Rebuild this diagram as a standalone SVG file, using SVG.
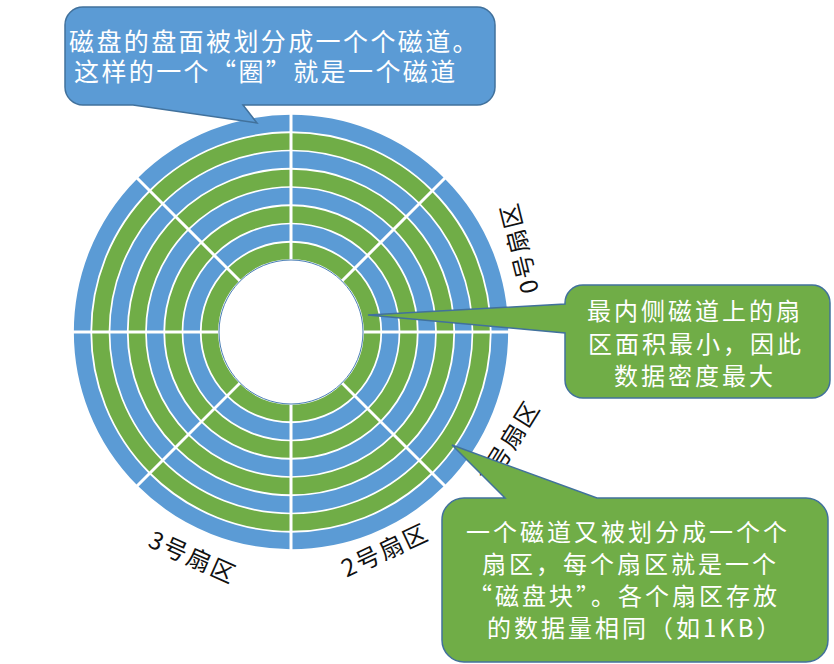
<svg xmlns="http://www.w3.org/2000/svg" width="834" height="664" viewBox="0 0 834 664">
<style>
.b{fill:none;stroke:#5B9BD5;stroke-width:16.5}
.g{fill:none;stroke:#70AD47;stroke-width:16.5}
.sep{stroke:#fff;stroke-width:3}
.lab{font-family:"Noto Sans CJK SC","Noto Sans",sans-serif;font-size:24px;fill:#111;letter-spacing:2px;text-anchor:middle}
.ct{font-family:"Noto Sans CJK SC","Noto Sans",sans-serif;font-size:24px;fill:#fff;letter-spacing:3px}
.cb{stroke:#41719C;stroke-width:1.5}
</style>
<rect width="834" height="664" fill="#fff"/>
<g id="disk" transform="translate(291,332)">
<circle class="b" r="208.9"/>
<circle class="g" r="190.6"/>
<circle class="b" r="172.4"/>
<circle class="g" r="154.1"/>
<circle class="b" r="135.9"/>
<circle class="g" r="117.6"/>
<circle class="b" r="99.4"/>
<circle class="g" r="81.1"/>
<line class="sep" x1="-220" y1="0" x2="220" y2="0"/>
<line class="sep" x1="0" y1="-220" x2="0" y2="220"/>
<line class="sep" x1="-156" y1="-156" x2="156" y2="156"/>
<line class="sep" x1="-156" y1="156" x2="156" y2="-156"/>
<circle r="72" fill="#fff" stroke="#4A7EB5" stroke-width="1"/>
</g>
<g id="sector-labels">
<text class="lab" transform="translate(519,248) rotate(-104)" x="0" y="9">0号扇区</text>
<text class="lab" transform="translate(509,442) rotate(-58)" x="0" y="9">1号扇区</text>
<text class="lab" transform="translate(385,550) rotate(-25)" x="0" y="9">2号扇区</text>
<text class="lab" transform="translate(193,557) rotate(24)" x="0" y="9">3号扇区</text>
</g>
<g id="callout-top">
<path class="cb" fill="#5B9BD5" d="M83,7 H477 A18,18 0 0 1 495,25 V87 A18,18 0 0 1 477,105 H243 L257,123 L133,105 H83 A18,18 0 0 1 65,87 V25 A18,18 0 0 1 83,7 Z"/>
<text class="ct" style="font-size:25px;letter-spacing:2.4px" x="69" y="51">磁盘的盘面被划分成一个个磁道。</text>
<text class="ct" style="font-size:25px;letter-spacing:2.4px" x="74" y="81">这样的一个“圈”就是一个磁道</text>
</g>
<g id="callout-right">
<path class="cb" fill="#70AD47" d="M583,285 H812 A18,18 0 0 1 830,303 V380 A18,18 0 0 1 812,398 H583 A18,18 0 0 1 565,380 V333 L368,315 L565,304 V303 A18,18 0 0 1 583,285 Z"/>
<text class="ct" x="587" y="320">最内侧磁道上的扇</text>
<text class="ct" x="588" y="353">区面积最小，因此</text>
<text class="ct" x="614" y="385">数据密度最大</text>
</g>
<g id="callout-bottom">
<path class="cb" fill="#70AD47" d="M464,498 H505 L452,445 L597,498 H806 A22,22 0 0 1 828,520 V640 A22,22 0 0 1 806,662 H464 A22,22 0 0 1 442,640 V520 A22,22 0 0 1 464,498 Z"/>
<text class="ct" x="466" y="541">一个磁道又被划分成一个个</text>
<text class="ct" x="482" y="573">扇区，每个扇区就是一个</text>
<text class="ct" x="468" y="605">“磁盘块”。各个扇区存放</text>
<text class="ct" x="487" y="637">的数据量相同（如1KB）</text>
</g>
</svg>
